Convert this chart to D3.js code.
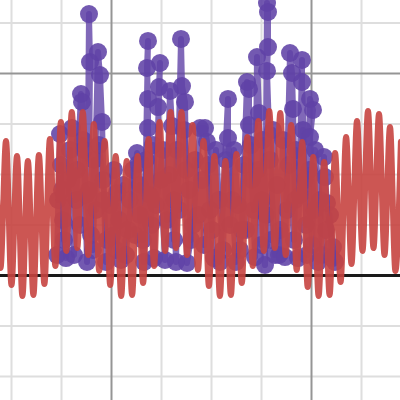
<!DOCTYPE html>
<html>
<head>
<meta charset="utf-8">
<script src="https://cdn.jsdelivr.net/npm/d3@7/dist/d3.min.js"></script>
<style>
  html, body { margin: 0; padding: 0; background: #fff; }
  svg { display: block; }
</style>
</head>
<body>
<svg id="chart" width="400" height="400"></svg>
<script>
// ---- grid tick values ----
const xMinorTicks = [10, 15, 25, 30, 35, 45];
const xMajorTicks = [20, 40];
const yMinorTicks = [-10, -5, 5, 10, 15, 25];
const yMajorTicks = [20];
const xAxisValue = 0;

// ---- red curve: peaks and troughs ----
const redPeaksX = [8.40, 9.50, 10.60, 11.69, 12.79, 13.89, 14.99, 16.08, 17.18, 18.28,
  19.37, 20.47, 21.57, 22.66, 23.76, 24.86, 25.96, 27.05, 28.15, 29.25,
  30.34, 31.44, 32.54, 33.63, 34.73, 35.83, 36.93, 38.02, 39.12, 40.22,
  41.31, 42.41, 43.51, 44.60, 45.70, 46.80, 47.90, 48.99];
const redPeaksY = [14.95, 13.27, 11.78, 11.29, 11.88, 13.47, 15.15, 16.14, 16.14, 14.95,
  13.27, 11.78, 11.29, 11.78, 13.47, 15.15, 16.14, 16.14, 14.85, 13.27,
  11.78, 11.29, 11.98, 13.66, 15.25, 16.24, 16.04, 14.85, 13.17, 11.68,
  11.19, 12.08, 13.66, 15.25, 16.24, 15.94, 14.65, 13.20];
const redTroughsX = [8.95, 10.05, 11.14, 12.24, 13.34, 14.44, 15.53, 16.63, 17.73, 18.82,
  19.92, 21.02, 22.11, 23.21, 24.31, 25.41, 26.50, 27.60, 28.70, 29.79,
  30.89, 31.99, 33.08, 34.18, 35.28, 36.38, 37.47, 38.57, 39.67, 40.76,
  41.86, 42.96, 44.05, 45.15, 46.25, 47.35, 48.44];
const redTroughsY = [0.69, -0.99, -2.08, -1.98, -0.89, 0.89, 2.38, 2.67, 1.98, 0.40,
  -0.99, -2.08, -1.98, -0.79, 0.89, 2.38, 2.67, 1.98, 0.50, -1.09,
  -2.08, -1.98, -0.79, 0.89, 2.38, 2.67, 1.98, 0.50, -1.19, -2.08,
  -1.98, -0.69, 1.09, 2.38, 2.67, 1.98, 0.40];

// ---- purple points, upper stems (in drawing order) ----
const purpleX = [14.6, 14.9, 15.1, 15.2, 15.5, 16.1, 16.5, 17.0, 17.1, 17.3,
  17.6, 17.8, 17.9, 17.8, 18.2, 18.7, 18.9, 19.1, 19.3, 19.5,
  20.1, 20.6, 21.0, 21.7, 22.6, 22.7, 22.9, 23.3, 23.7, 23.6,
  23.7, 23.7, 23.9, 24.3, 24.9, 24.8, 24.7, 25.0, 25.4, 25.9,
  26.1, 26.3, 26.5, 27.0, 27.1, 27.4, 27.5, 27.6, 28.2, 28.9,
  29.4, 29.6, 29.9, 30.3, 30.9, 31.7, 31.7, 32.1, 32.5, 33.1,
  33.6, 33.8, 33.8, 34.1, 34.4, 34.6, 34.8, 35.1, 35.4, 35.6,
  35.7, 35.7, 35.6, 35.9, 36.4, 36.9, 37.4, 37.9, 38.1, 38.2,
  38.4, 38.7, 39.1, 39.1, 39.4, 39.6, 39.9, 40.2, 39.9, 40.3,
  40.7, 41.3, 41.4, 41.6, 42.2, 42.4];
const purpleY = [1.98, 13.96, 8.42, 5.45, 1.68, 14.55, 7.43, 17.92, 17.13, 12.38,
  1.29, 25.84, 21.09, 8.42, 2.48, 22.08, 19.80, 15.15, 7.43, 1.29,
  3.86, 8.12, 1.49, 4.46, 12.08, 10.99, 5.94, 1.29, 23.17, 20.50,
  17.43, 14.55, 7.92, 1.68, 20.99, 18.61, 16.63, 9.41, 1.49, 18.22,
  14.75, 7.43, 1.29, 23.37, 18.71, 17.13, 10.40, 1.19, 4.95, 14.55,
  14.55, 13.17, 6.44, 1.68, 1.29, 17.43, 13.56, 7.43, 1.29, 4.46,
  19.11, 18.42, 14.85, 9.41, 1.78, 21.58, 16.04, 7.43, 0.99, 26.93,
  26.04, 22.57, 20.20, 11.39, 1.98, 4.46, 1.78, 21.98, 20.00, 16.44,
  7.43, 1.68, 21.29, 19.11, 9.41, 1.98, 17.43, 16.34, 13.66, 6.44,
  1.29, 11.68, 9.70, 7.13, 2.77, 1.29];

// ---- purple points, dense lower cluster (in drawing order) ----
const purpleLowX = [14.7, 15.0, 15.3, 15.7, 15.9, 16.3, 16.6, 16.9, 17.2, 17.5,
  18.0, 18.3, 18.5, 18.8, 19.2, 19.6, 19.9, 20.3, 20.5, 20.8,
  21.2, 21.5, 21.9, 22.2, 22.4, 22.9, 23.2, 23.5, 24.0, 24.2,
  24.5, 25.2, 25.6, 25.8, 26.3, 26.6, 26.8, 27.3, 27.8, 28.0,
  28.4, 28.7, 29.1, 29.3, 29.7, 30.1, 30.5, 30.8, 31.2, 31.5,
  31.9, 32.3, 32.7, 32.9, 33.3, 33.5, 34.0, 34.3, 34.7, 35.0,
  35.2, 35.5, 36.0, 36.2, 36.6, 36.8, 37.2, 37.6, 37.8, 38.3,
  38.5, 38.9, 39.2, 39.5, 39.8, 40.1, 40.4, 40.9, 41.1, 41.5,
  41.9, 42.1];
const purpleLowY = [7.43, 10.89, 3.47, 9.41, 12.38, 1.98, 10.40, 4.95, 13.37, 7.92,
  3.96, 11.39, 6.44, 12.87, 9.41, 3.47, 6.93, 10.40, 2.48, 5.45,
  8.91, 1.98, 7.43, 10.40, 3.96, 8.91, 3.47, 11.39, 4.95, 12.87,
  6.93, 12.38, 5.45, 9.90, 3.47, 12.38, 6.44, 14.36, 8.42, 3.47,
  11.39, 5.94, 9.41, 2.97, 10.89, 4.46, 12.38, 7.43, 2.48, 11.39,
  4.95, 12.38, 6.93, 2.48, 10.89, 4.46, 12.87, 6.44, 10.40, 2.97,
  13.37, 5.94, 3.47, 14.36, 8.91, 1.98, 13.37, 6.44, 10.89, 3.47,
  12.38, 7.92, 14.36, 4.95, 10.40, 2.97, 12.38, 7.43, 1.98, 4.46,
  5.94, 1.68];

// ---- build ----
const W = 400, H = 400;
const svg = d3.select("#chart");
const x = d3.scaleLinear().domain([20, 40]).range([111, 311]);
const y = d3.scaleLinear().domain([0, 20]).range([275, 73]);

svg.append("rect").attr("width", W).attr("height", H).attr("fill", "#fff");

function vGrid(vals, color, width) {
  const g = svg.append("g").attr("transform", `translate(0,${H})`)
    .call(d3.axisBottom(x).tickValues(vals).tickSize(H).tickFormat(""));
  g.select(".domain").remove();
  g.selectAll(".tick line").attr("y2", -H).attr("stroke", color).attr("stroke-width", width);
}
function hGrid(vals, color, width) {
  const g = svg.append("g")
    .call(d3.axisLeft(y).tickValues(vals).tickSize(-W).tickFormat(""));
  g.select(".domain").remove();
  g.selectAll(".tick line").attr("stroke", color).attr("stroke-width", width);
}
vGrid(xMinorTicks, "#dedede", 2);
hGrid(yMinorTicks, "#dedede", 2);
vGrid(xMajorTicks, "#959595", 2);
hGrid(yMajorTicks, "#959595", 2);
hGrid([xAxisValue], "#1a1a1a", 3);

// purple series
const purpleLine = d3.line().x(d => x(d.x)).y(d => y(d.y));
function drawPurple(xs, ys) {
  const pts = xs.map((v, i) => ({x: v, y: ys[i]}));
  svg.append("path")
    .datum(pts)
    .attr("fill", "none")
    .attr("stroke", "#6042a6")
    .attr("stroke-opacity", 0.8)
    .attr("stroke-width", 6)
    .attr("stroke-linejoin", "round")
    .attr("stroke-linecap", "round")
    .attr("d", purpleLine);
  svg.append("g").selectAll("circle")
    .data(pts).join("circle")
    .attr("cx", d => x(d.x)).attr("cy", d => y(d.y)).attr("r", 9)
    .attr("fill", "#6042a6").attr("fill-opacity", 0.88);
}
drawPurple(purpleLowX, purpleLowY);
drawPurple(purpleX, purpleY);

// red series
const red = redPeaksX.map((v, i) => ({x: v, y: redPeaksY[i]}))
  .concat(redTroughsX.map((v, i) => ({x: v, y: redTroughsY[i]})))
  .sort((a, b) => a.x - b.x);
svg.append("path")
  .datum(red)
  .attr("fill", "none")
  .attr("stroke", "#c74440")
  .attr("stroke-opacity", 0.9)
  .attr("stroke-width", 6)
  .attr("stroke-linejoin", "round")
  .attr("stroke-linecap", "round")
  .attr("d", d3.line().x(d => x(d.x)).y(d => y(d.y)).curve(d3.curveMonotoneX));
</script>
</body>
</html>
